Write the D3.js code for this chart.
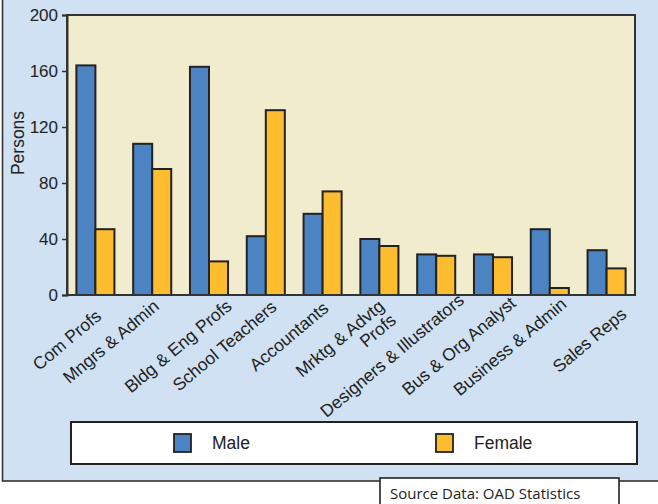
<!DOCTYPE html>
<html>
<head>
<meta charset="utf-8">
<script src="https://cdn.jsdelivr.net/npm/d3@7"></script>
<style>
  html, body { margin: 0; padding: 0; background: #ffffff; }
  svg { display: block; font-family: "Liberation Sans", Arial, sans-serif; }
</style>
</head>
<body>
<svg id="chart" width="658" height="504"></svg>
<script>
// Occupations and head counts by sex
const categories = [
  "Com Profs", "Mngrs & Admin", "Bldg & Eng Profs", "School Teachers", "Accountants",
  "Mrktg & Advtg\nProfs", "Designers & Illustrators", "Bus & Org Analyst",
  "Business & Admin", "Sales Reps"
];
const maleValues   = [164, 108, 163, 42, 58, 40, 29, 29, 47, 32];
const femaleValues = [47, 90, 24, 132, 74, 35, 28, 27, 5, 19];
const seriesNames  = ["Male", "Female"];
const yTicks       = [0, 40, 80, 120, 160, 200];

// Fine placement of each rotated category label (end point, relative to group centre)
const labelNudge = [[7, 23], [8, 13], [24, 13], [12, 14], [7, 15], [6, 13], [29, 7], [24, 10], [18, 11], [21, 21]];

const colors = { Male: "#4b83c3", Female: "#fdbd2f" };
const ink = "#222222";

const svg = d3.select("#chart");

// Outer light-blue panel
svg.append("rect")
  .attr("x", 2.5).attr("y", -10).attr("width", 700).attr("height", 491)
  .attr("fill", "#cfe1f2").attr("stroke", "#333").attr("stroke-width", 1.6);

const plot = { left: 67, right: 635, top: 15, bottom: 295 };

const x0 = d3.scaleBand()
  .domain(categories)
  .range([plot.left, plot.right])
  .paddingInner(0.33)
  .paddingOuter(0.165);

const x1 = d3.scaleBand()
  .domain(seriesNames)
  .range([0, x0.bandwidth()]);

const y = d3.scaleLinear().domain([0, 200]).range([plot.bottom, plot.top]);

// Plot background
svg.append("rect")
  .attr("x", plot.left).attr("y", plot.top)
  .attr("width", plot.right - plot.left).attr("height", plot.bottom - plot.top)
  .attr("fill", "#f2ecce");

// Bars
const rows = categories.map((c, i) => ({ c, Male: maleValues[i], Female: femaleValues[i] }));
const groups = svg.append("g").selectAll("g")
  .data(rows).join("g")
  .attr("transform", d => `translate(${x0(d.c)},0)`);

groups.selectAll("rect")
  .data(d => seriesNames.map(k => ({ k, v: d[k] })))
  .join("rect")
  .attr("x", d => x1(d.k))
  .attr("y", d => y(d.v))
  .attr("width", x1.bandwidth())
  .attr("height", d => y(0) - y(d.v))
  .attr("fill", d => colors[d.k])
  .attr("stroke", ink)
  .attr("stroke-width", 2);

// Plot frame
svg.append("rect")
  .attr("x", plot.left).attr("y", plot.top)
  .attr("width", plot.right - plot.left).attr("height", plot.bottom - plot.top)
  .attr("fill", "none").attr("stroke", "#333").attr("stroke-width", 2);

// Y axis
const yAxis = svg.append("g")
  .attr("transform", `translate(${plot.left},0)`)
  .call(d3.axisLeft(y).tickValues(yTicks).tickSize(5).tickPadding(4).tickFormat(d3.format("d")));
yAxis.select(".domain").attr("stroke", "#333").attr("stroke-width", 2);
yAxis.selectAll(".tick line").attr("stroke", "#333").attr("stroke-width", 1.5);
yAxis.selectAll(".tick text")
  .attr("fill", ink).style("font-size", "17px")
  .style("font-family", "'Liberation Sans', Arial, sans-serif");

// Y axis title
svg.append("text")
  .attr("transform", "translate(24,143) rotate(-90)")
  .attr("text-anchor", "middle")
  .attr("fill", ink)
  .style("font-size", "17.5px")
  .text("Persons");

// Category labels, rotated
const labels = svg.append("g");
categories.forEach((c, i) => {
  const cx = x0(c) + x0.bandwidth() / 2 + labelNudge[i][0];
  const cy = plot.bottom + labelNudge[i][1];
  const t = labels.append("text")
    .attr("transform", `translate(${cx},${cy}) rotate(-40)`)
    .attr("text-anchor", "end")
    .attr("fill", ink)
    .style("font-size", "17.5px");
  c.split("\n").forEach((line, j) => {
    t.append("tspan").attr("x", 0).attr("dy", j === 0 ? 0 : "1.05em").text(line);
  });
});

// Legend
const legend = svg.append("g");
legend.append("rect")
  .attr("x", 71).attr("y", 422).attr("width", 566).attr("height", 42)
  .attr("fill", "#ffffff").attr("stroke", ink).attr("stroke-width", 2);
const legendX = d3.scalePoint().domain(seriesNames).range([174, 436]);
seriesNames.forEach(k => {
  legend.append("rect")
    .attr("x", legendX(k)).attr("y", 434).attr("width", 17).attr("height", 18)
    .attr("fill", colors[k]).attr("stroke", ink).attr("stroke-width", 1.8);
  legend.append("text")
    .attr("x", legendX(k) + 38).attr("y", 449)
    .attr("fill", ink).style("font-size", "17.5px")
    .text(k);
});

// Source note
svg.append("rect")
  .attr("x", 380).attr("y", 478).attr("width", 239).attr("height", 40)
  .attr("fill", "#ffffff").attr("stroke", ink).attr("stroke-width", 1.6);
svg.append("text")
  .attr("x", 390).attr("y", 499)
  .attr("fill", ink)
  .style("font-family", "'Open Sans', 'Noto Sans', sans-serif")
  .style("font-size", "15px")
  .text("Source Data: OAD Statistics");
</script>
</body>
</html>
